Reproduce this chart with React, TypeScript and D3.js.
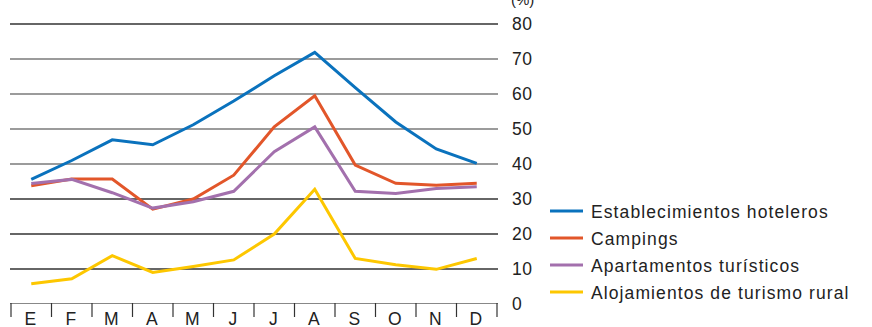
import React from "react";
import * as d3 from "d3";

const months = ["E", "F", "M", "A", "M", "J", "J", "A", "S", "O", "N", "D"];
const hoteles = [35.6, 41, 46.9, 45.5, 51.2, 58, 65.2, 71.9, 61.8, 52, 44.3, 40.2];
const campings = [33.8, 35.7, 35.7, 27.1, 30, 36.8, 50.6, 59.5, 39.7, 34.5, 33.9, 34.5];
const apartamentos = [34.4, 35.6, 31.8, 27.4, 29.2, 32.2, 43.5, 50.6, 32.2, 31.6, 33, 33.5];
const rural = [5.8, 7.2, 13.8, 9, 10.7, 12.6, 20, 32.8, 13, 11.2, 9.9, 13];
const yTicks = [0, 10, 20, 30, 40, 50, 60, 70, 80];
const seriesNames = [
  "Establecimientos hoteleros",
  "Campings",
  "Apartamentos turísticos",
  "Alojamientos de turismo rural",
];
const seriesColors = ["#0a72bd", "#e2562a", "#a370ad", "#fdc700"];

export default function App() {
  const W = 872, H = 327;
  const left = 11, right = 497;
  const x = d3.scaleBand<number>().domain(months.map((_, i) => i)).range([left, right]);
  const y = d3.scaleLinear().domain([0, 80]).range([304, 24]);
  const allSeries = [hoteles, campings, apartamentos, rural];
  const line = d3
    .line<number>()
    .x((_, i) => (x(i) as number) + x.bandwidth() / 2)
    .y((d) => y(d));
  const font = "'Liberation Sans', Arial, sans-serif";
  const gridColor = (v: number) => (v >= 40 && v <= 70 ? "#7a7a7a" : "#333");
  const boundaries = d3.range(13).map((i) => left + i * x.bandwidth());
  return (
    <svg
      width={W}
      height={H}
      style={{ position: "absolute", left: 0, top: 0, background: "#fff" }}
      fontFamily={font}
    >
      {yTicks
        .filter((v) => v > 0)
        .map((v) => (
          <line key={v} x1={10} x2={498} y1={y(v)} y2={y(v)} stroke={gridColor(v)} strokeWidth={1.4} />
        ))}
      <line x1={10} x2={498} y1={303.5} y2={303.5} stroke="#888" strokeWidth={1} />
      {boundaries.map((bx, i) => (
        <line key={i} x1={bx} x2={bx} y1={303} y2={317} stroke="#333" strokeWidth={1.2} />
      ))}
      {months.map((m, i) => (
        <text
          key={i}
          x={(x(i) as number) + x.bandwidth() / 2 - 0.5}
          y={325}
          textAnchor="middle"
          fontSize={17.5}
          letterSpacing={0.8}
          fill="#222"
        >
          {m}
        </text>
      ))}
      {yTicks.map((v) => (
        <text key={v} x={512} y={y(v) + 6} fontSize={17.5} letterSpacing={0.6} fill="#222">
          {v}
        </text>
      ))}
      <text x={511} y={5} fontSize={15} fill="#222">(%)</text>
      {allSeries.map((s, k) => (
        <path
          key={k}
          d={line(s) || ""}
          fill="none"
          stroke={seriesColors[k]}
          strokeWidth={3}
          strokeLinejoin="miter"
        />
      ))}
      {seriesNames.map((n, k) => (
        <g key={n} transform={`translate(0, ${211 + k * 27})`}>
          <line x1={550} x2={583} y1={0} y2={0} stroke={seriesColors[k]} strokeWidth={3} />
          <text x={591} y={6.5} fontSize={17.5} letterSpacing={1.1} fill="#222">
            {n}
          </text>
        </g>
      ))}
    </svg>
  );
}
